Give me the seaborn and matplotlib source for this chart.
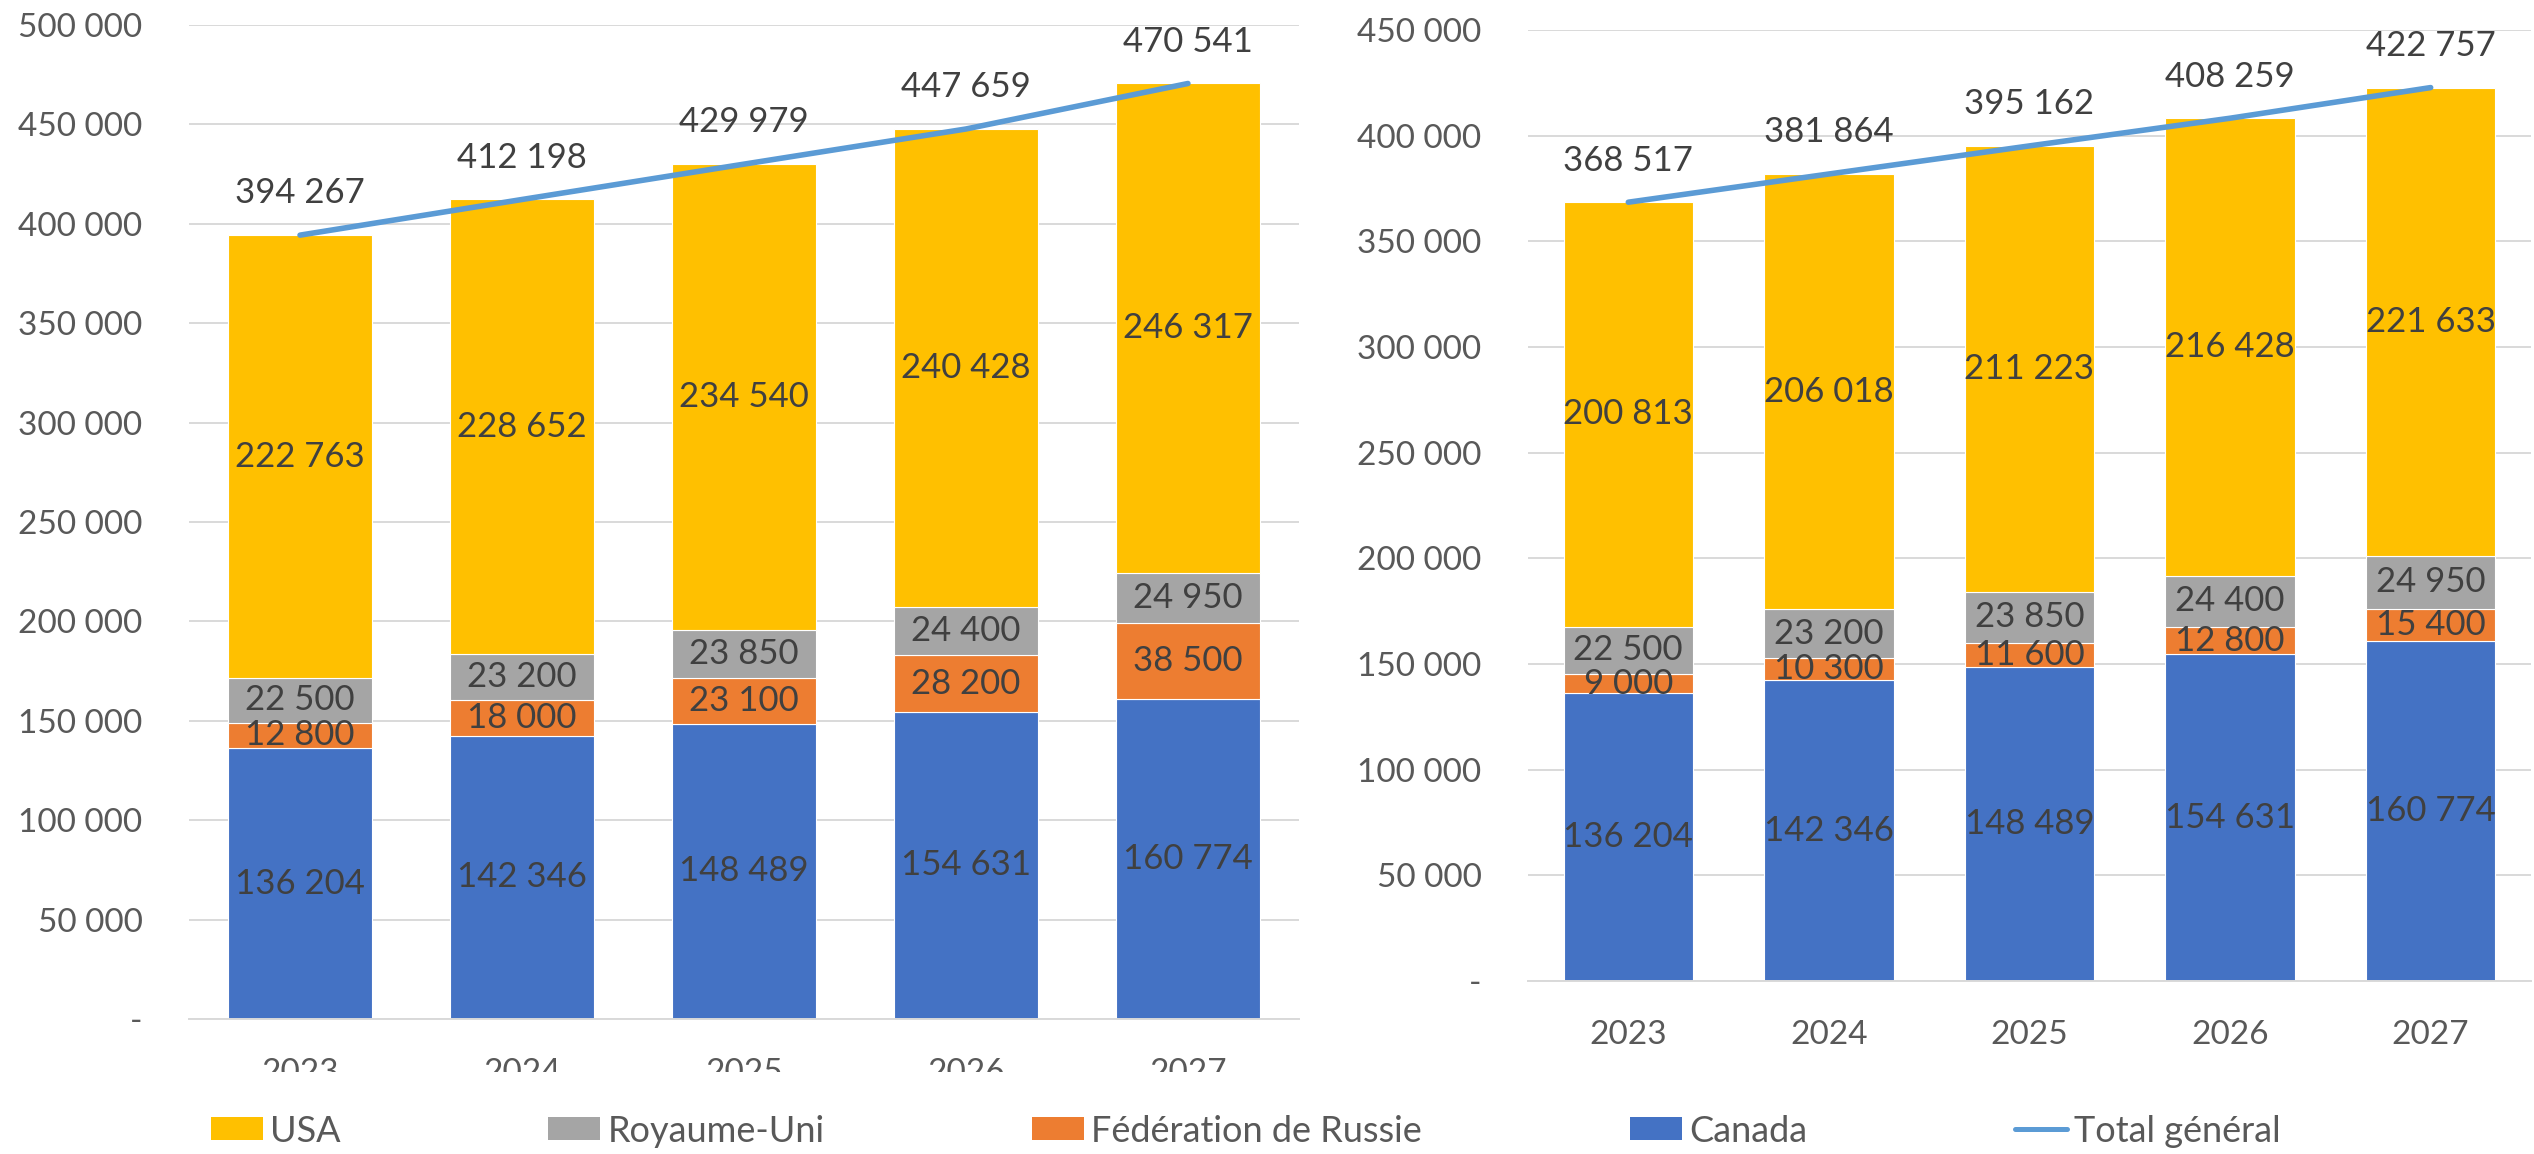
import matplotlib
matplotlib.use("Agg")
import matplotlib.pyplot as plt
import seaborn as sns
import numpy as np
from matplotlib.patches import Patch, Rectangle
from matplotlib.lines import Line2D
from matplotlib.ticker import FuncFormatter, MultipleLocator
from matplotlib.transforms import ScaledTranslation

# données
annees = ["2023", "2024", "2025", "2026", "2027"]

canada = [136204, 142346, 148489, 154631, 160774]

# graphique de gauche
russie_g = [12800, 18000, 23100, 28200, 38500]
ru_g = [22500, 23200, 23850, 24400, 24950]
usa_g = [222763, 228652, 234540, 240428, 246317]
total_g = [394267, 412198, 429979, 447659, 470541]

# graphique de droite
russie_d = [9000, 10300, 11600, 12800, 15400]
ru_d = [22500, 23200, 23850, 24400, 24950]
usa_d = [200813, 206018, 211223, 216428, 221633]
total_d = [368517, 381864, 395162, 408259, 422757]

couleurs = {"USA": "#FFC000", "Royaume-Uni": "#A5A5A5",
            "Fédération de Russie": "#ED7D31", "Canada": "#4472C4"}
bleu_ligne = "#5B9BD5"
gris_txt = "#595959"
gris_lbl = "#404040"
gris_grille = "#D9D9D9"

sns.set_style("white")
plt.rcParams["font.family"] = ["Lato", "DejaVu Sans"]


def fmt(v):
    return f"{int(round(v)):,}".replace(",", " ")


def graphe(ax, piles, totaux, ymax):
    bas = np.zeros(len(annees))
    for nom, vals in piles:
        sns.barplot(x=annees, y=vals, bottom=bas, color=couleurs[nom], width=0.645,
                    edgecolor="white", linewidth=0.8, saturation=1, errorbar=None, ax=ax)
        ax.bar_label(ax.containers[-1], labels=[fmt(v) for v in vals],
                     label_type="center", fontsize=25, color=gris_lbl)
        bas = bas + np.array(vals)
    sns.lineplot(x=np.arange(len(annees)), y=totaux, color=bleu_ligne, lw=4.0,
                 solid_capstyle="round", ax=ax)
    for i, t in enumerate(totaux):
        ax.annotate(fmt(t), (i, t), xytext=(0, 30), textcoords="offset points",
                    ha="center", va="center", fontsize=25, color=gris_lbl)

    ax.set_xlim(-0.5, len(annees) - 0.5)
    ax.set_ylim(0, ymax)
    ax.yaxis.set_major_locator(MultipleLocator(50000))
    ax.yaxis.set_major_formatter(FuncFormatter(lambda v, p: "-" if v == 0 else fmt(v)))
    ax.set_xlabel("")
    ax.set_ylabel("")
    ax.set_axisbelow(True)
    ax.yaxis.grid(True, color=gris_grille, lw=1.4)
    ax.xaxis.grid(False)
    for s in ["left", "top", "right"]:
        ax.spines[s].set_visible(False)
    ax.spines["bottom"].set_color(gris_grille)
    ax.spines["bottom"].set_linewidth(1.4)
    ax.tick_params(axis="x", length=0, pad=28, labelsize=24, labelcolor=gris_txt)
    ax.tick_params(axis="y", length=0, pad=33.5, labelsize=24, labelcolor=gris_txt)
    # le tiret du zéro est décalé vers la gauche comme dans Excel
    lab = ax.yaxis.get_major_ticks()[0].label1
    lab.set_transform(lab.get_transform() + ScaledTranslation(-0.19, 0, ax.figure.dpi_scale_trans))


fig = plt.figure(figsize=(25.34, 11.54), dpi=100)
ax1 = fig.add_axes([0.0746, 0.1170, 0.4380, 0.8614])
ax2 = fig.add_axes([0.6030, 0.1499, 0.3958, 0.8241])

graphe(ax1, [("Canada", canada), ("Fédération de Russie", russie_g),
             ("Royaume-Uni", ru_g), ("USA", usa_g)], total_g, 500000)
graphe(ax2, [("Canada", canada), ("Fédération de Russie", russie_d),
             ("Royaume-Uni", ru_d), ("USA", usa_d)], total_d, 450000)

# le graphique de gauche est coupé en bas
fig.add_artist(Rectangle((0, 44 / 1154), 1300 / 2534, 38 / 1154, transform=fig.transFigure,
                         facecolor="white", edgecolor="none", zorder=4))

noms = ["USA", "Royaume-Uni", "Fédération de Russie", "Canada"]
poignees = [Patch(facecolor=couleurs[n], edgecolor="none") for n in noms]
poignees.append(Line2D([], [], color=bleu_ligne, lw=3.6, solid_capstyle="round"))
fig.legend(poignees, noms + ["Total général"], ncol=5, loc="center left",
           bbox_to_anchor=(211 / 2534, 23 / 1154), frameon=False, fontsize=26,
           handlelength=1.44, handleheight=0.61, handletextpad=0.19, columnspacing=5.76,
           borderpad=0, borderaxespad=0, labelcolor=gris_txt)

fig.savefig("out.png", dpi=100)
